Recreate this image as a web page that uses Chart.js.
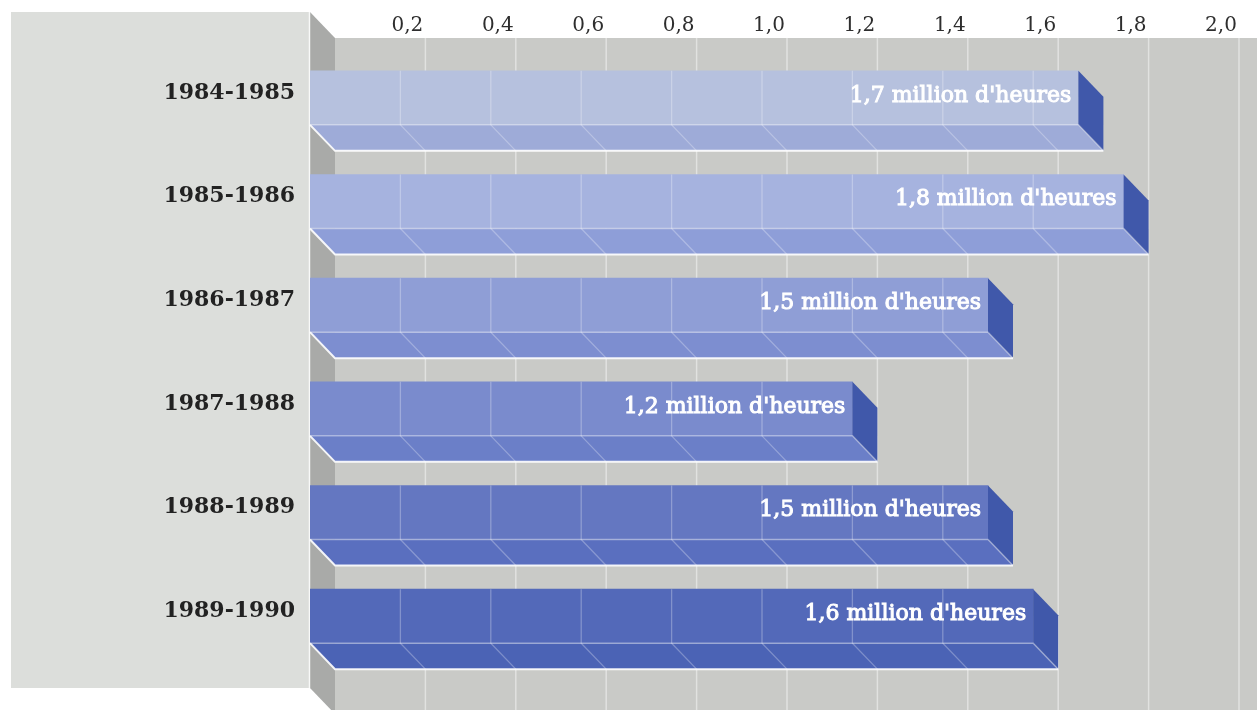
<!DOCTYPE html>
<html>
<head>
<meta charset="utf-8">
<script src="https://cdn.jsdelivr.net/npm/chart.js@4.4.1/dist/chart.umd.min.js"></script>
<style>
  html, body { margin: 0; padding: 0; background: #ffffff; }
  #wrap { width: 1257px; height: 710px; }
</style>
</head>
<body>
<div id="wrap"><canvas id="hoursChart" width="1257" height="710"></canvas></div>
<script>
/* ---- data ---- */
const seasons = ["1984-1985", "1985-1986", "1986-1987", "1987-1988", "1988-1989", "1989-1990"];
const hours = [1.7, 1.8, 1.5, 1.2, 1.5, 1.6];   // millions of hours
const axisMin = 0;
const axisMax = 2.0;
const axisStep = 0.2;
const unitText = " million d'heures";

/* ---- styles ---- */
const frontColors = ["#b6c1de", "#a6b3df", "#8f9ed6", "#7a8bcd", "#6477c1", "#5369b9"];
const floorColors = ["#9eabd8", "#8e9ed8", "#7d8ed0", "#6b7fc8", "#5a6fbf", "#4b63b5"];
const endColor = "#4058aa";
const DX = 25;   // depth offset, horizontal
const DY = 26;   // depth offset, vertical

const fmt = v => v.toFixed(1).replace(".", ",");

/******************************************************
 * 3D box: label panel, left wall, back wall, bar sides
 ******************************************************/
const box3d = {
  id: "box3d",
  beforeDraw(chart) {
    const { ctx, chartArea: a, scales: { x } } = chart;
    const frontTop = a.top - 34;
    const frontBottom = a.bottom + 20;
    ctx.save();

    // label panel
    ctx.fillStyle = "#dcdedb";
    ctx.fillRect(11, frontTop, a.left - 11, frontBottom - frontTop);

    // back wall
    ctx.fillStyle = "#c9cac7";
    ctx.fillRect(a.left + DX, frontTop + DY, chart.width - a.left - DX, chart.height - frontTop - DY);

    // left wall
    ctx.fillStyle = "#a9aaa8";
    ctx.beginPath();
    ctx.moveTo(a.left, frontTop);
    ctx.lineTo(a.left + DX, frontTop + DY);
    ctx.lineTo(a.left + DX, frontBottom + DY);
    ctx.lineTo(a.left, frontBottom);
    ctx.closePath();
    ctx.fill();

    // grid on the back wall
    ctx.strokeStyle = "rgba(255,255,255,0.45)";
    ctx.lineWidth = 1.5;
    x.ticks.forEach(t => {
      if (t.value <= axisMin) return;
      const gx = x.getPixelForValue(t.value) + DX;
      ctx.beginPath();
      ctx.moveTo(gx, frontTop + DY);
      ctx.lineTo(gx, chart.height);
      ctx.stroke();
    });

    // light edge between panel and wall
    ctx.strokeStyle = "rgba(255,255,255,0.8)";
    ctx.beginPath();
    ctx.moveTo(a.left - 0.5, frontTop);
    ctx.lineTo(a.left - 0.5, frontBottom);
    ctx.stroke();
    ctx.restore();
  },

  afterDatasetsDraw(chart) {
    const { ctx, scales: { x } } = chart;
    const meta = chart.getDatasetMeta(0);
    ctx.save();
    meta.data.forEach((bar, i) => {
      const { x: end, y, base, height } = bar.getProps(["x", "y", "base", "height"], true);
      const top = y - height / 2;
      const bot = y + height / 2;

      // underside
      ctx.fillStyle = floorColors[i];
      ctx.beginPath();
      ctx.moveTo(base, bot);
      ctx.lineTo(end, bot);
      ctx.lineTo(end + DX, bot + DY);
      ctx.lineTo(base + DX, bot + DY);
      ctx.closePath();
      ctx.fill();

      // end face
      ctx.fillStyle = endColor;
      ctx.beginPath();
      ctx.moveTo(end, top);
      ctx.lineTo(end + DX, top + DY);
      ctx.lineTo(end + DX, bot + DY);
      ctx.lineTo(end, bot);
      ctx.closePath();
      ctx.fill();

      // grid lines seen through the bar
      ctx.strokeStyle = "rgba(255,255,255,0.28)";
      ctx.lineWidth = 1.3;
      x.ticks.forEach(t => {
        if (t.value <= axisMin) return;
        const gx = x.getPixelForValue(t.value);
        if (gx > end - 2) return;
        ctx.beginPath();
        ctx.moveTo(gx, top);
        ctx.lineTo(gx, bot);
        ctx.lineTo(gx + DX, bot + DY);
        ctx.stroke();
      });

      // edges
      ctx.strokeStyle = "rgba(255,255,255,0.4)";
      ctx.lineWidth = 1.5;
      ctx.beginPath();
      ctx.moveTo(base, bot);
      ctx.lineTo(end, bot);
      ctx.lineTo(end + DX, bot + DY);
      ctx.stroke();

      ctx.strokeStyle = "rgba(255,255,255,0.9)";
      ctx.lineWidth = 2;
      ctx.beginPath();
      ctx.moveTo(base, bot);
      ctx.lineTo(base + DX, bot + DY);
      ctx.lineTo(end + DX, bot + DY);
      ctx.stroke();

      // value label
      const text = fmt(hours[i]) + unitText;
      ctx.font = "22px 'DejaVu Serif'";
      ctx.textAlign = "right";
      ctx.textBaseline = "middle";
      ctx.fillStyle = "#ffffff";
      ctx.strokeStyle = "#ffffff";
      ctx.lineWidth = 1;
      ctx.fillText(text, end - 7, y - 2);
      ctx.strokeText(text, end - 7, y - 2);
    });
    ctx.restore();
  }
};

/******************************************************
 * CHART
 ******************************************************/
new Chart(document.getElementById("hoursChart"), {
  type: "bar",
  data: {
    labels: seasons,
    datasets: [{
      data: hours,
      backgroundColor: frontColors,
      borderWidth: 0,
      barThickness: 54
    }]
  },
  options: {
    indexAxis: "y",
    responsive: false,
    animation: false,
    layout: { padding: { top: 0, left: 0, right: 43, bottom: 42 } },
    plugins: {
      legend: { display: false },
      tooltip: { enabled: false }
    },
    scales: {
      x: {
        position: "top",
        min: axisMin,
        max: axisMax,
        grid: { display: false, drawTicks: false },
        border: { display: false },
        ticks: {
          stepSize: axisStep,
          padding: 8,
          labelOffset: 7,
          color: "#2e2e2e",
          font: { family: "'DejaVu Serif'", size: 20 },
          callback: v => (v === axisMin ? "" : fmt(v))
        },
        afterFit: scale => { scale.height = 46; }
      },
      y: {
        position: "left",
        grid: { display: false, drawTicks: false },
        border: { display: false },
        ticks: {
          padding: 15,
          labelOffset: -5,
          color: "#222222",
          font: { family: "'DejaVu Serif'", size: 22, weight: "bold" }
        },
        afterFit: scale => { scale.width = 310; }
      }
    }
  },
  plugins: [box3d]
});
</script>
</body>
</html>
